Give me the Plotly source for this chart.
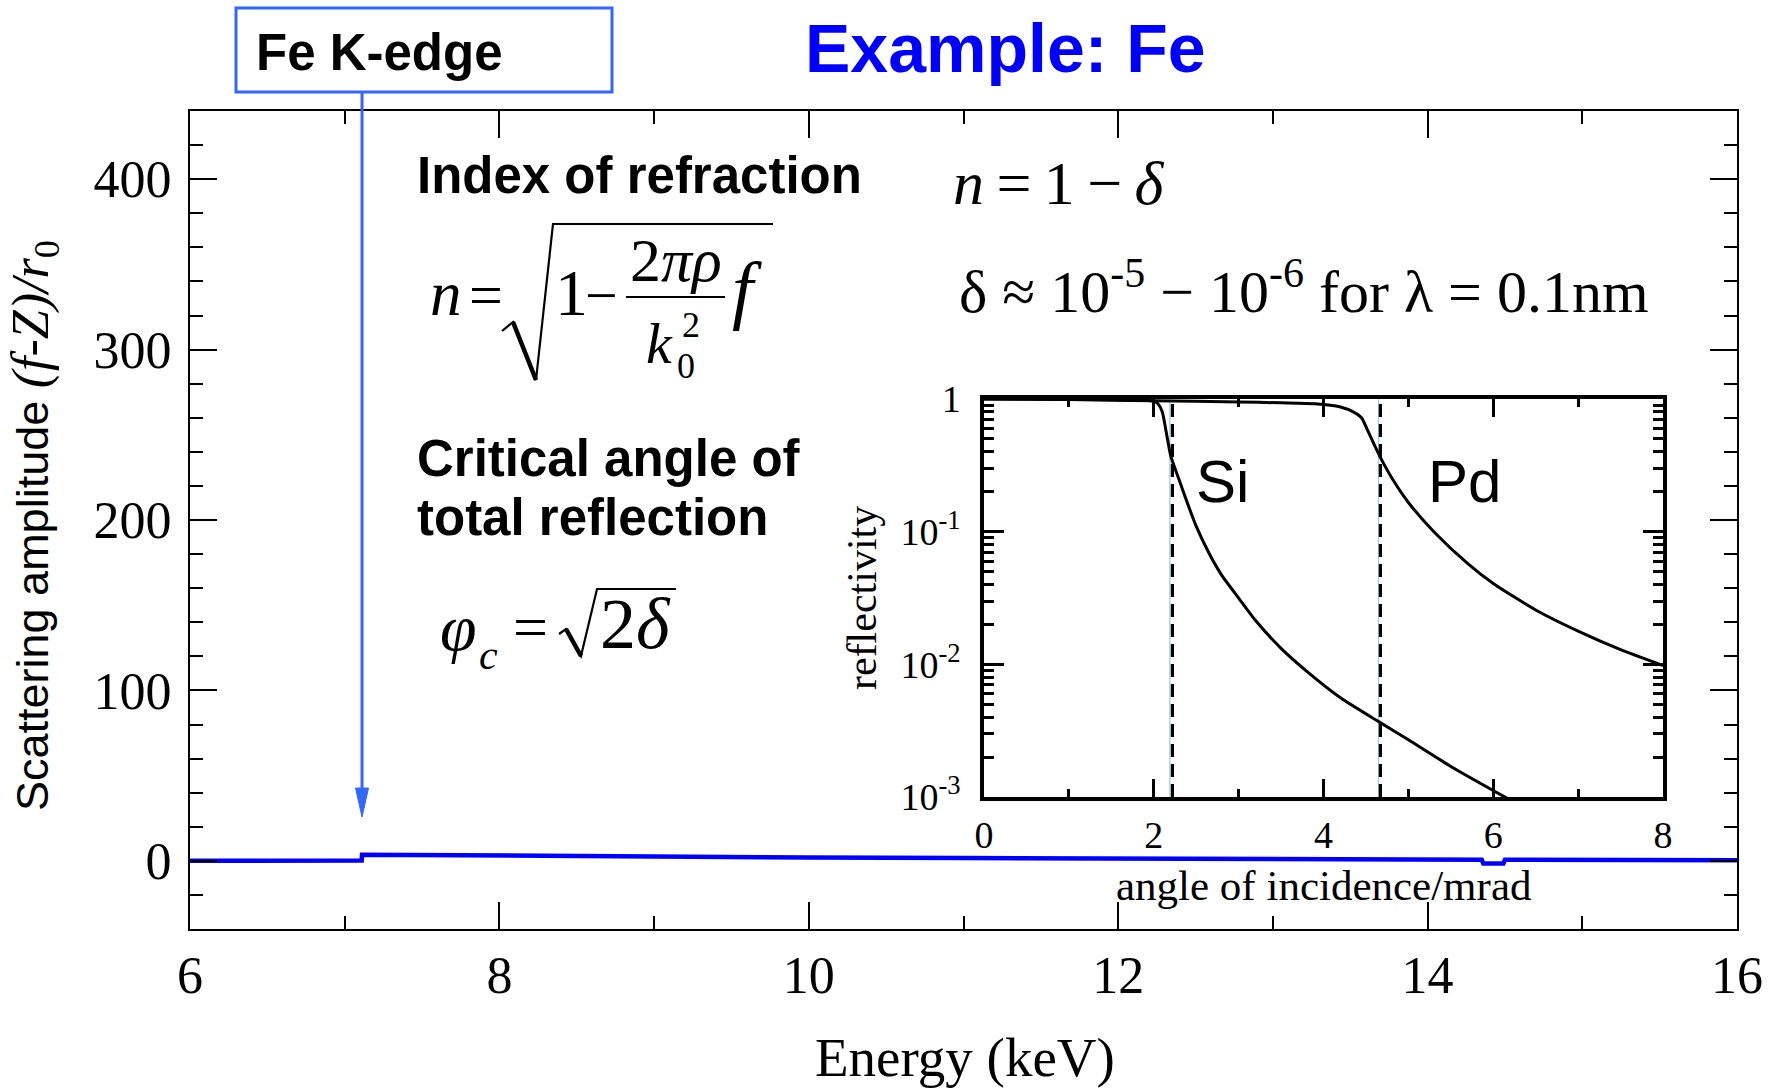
import plotly.graph_objects as go

# ---------------- data ----------------
# Fe scattering amplitude (f - Z)/r0 versus photon energy
energy_kev = [6.0, 7.0, 7.11, 7.112, 7.5, 8.0, 9.0, 10.0, 11.0, 12.0, 13.0, 14.0,
              14.35, 14.36, 14.49, 14.5, 15.0, 16.0]
amplitude = [0.0, 0.1, 0.2, 3.6, 3.3, 3.0, 2.5, 2.0, 1.6, 1.3, 1.0, 0.8,
             0.7, -1.6, -1.6, 0.6, 0.5, 0.3]

# mirror reflectivity versus grazing angle (mrad)
angle_si = [0.0, 0.5, 1.0, 1.5, 1.9, 2.0, 2.05, 2.1, 2.15, 2.2, 2.3, 2.4, 2.5,
            2.65, 2.8, 3.0, 3.2, 3.5, 3.8, 4.2, 4.65, 5.0, 5.5, 6.2]
refl_si = [1.0, 0.998, 0.995, 0.99, 0.98, 0.96, 0.92, 0.8, 0.55, 0.372, 0.245,
           0.162, 0.110, 0.069, 0.047, 0.0316, 0.0214, 0.0132, 0.0089, 0.0056,
           0.0037, 0.0027, 0.0017, 0.00095]
angle_pd = [0.0, 1.0, 2.0, 3.0, 3.5, 3.9, 4.2, 4.35, 4.45, 4.52, 4.6, 4.67, 4.8,
            5.0, 5.3, 5.7, 6.0, 6.5, 7.0, 7.5, 8.0]
refl_pd = [1.0, 0.99, 0.97, 0.95, 0.935, 0.92, 0.87, 0.8, 0.72, 0.58, 0.45,
           0.363, 0.257, 0.166, 0.1, 0.0575, 0.0407, 0.0257, 0.0178, 0.0129, 0.0098]

# critical angles of total reflection (mrad)
crit_names = ["Si", "Pd"]
crit_angle = [2.22, 4.67]
crit_guide = [2.19, 4.65]

K_EDGE = 7.112  # keV

main_xticks = [6, 8, 10, 12, 14, 16]
main_yticks = [0, 100, 200, 300, 400]
inset_xticks = [0, 2, 4, 6, 8]
inset_yticks = [1e-3, 1e-2, 1e-1, 1]
inset_yticktext = ["10<sup>-3</sup>", "10<sup>-2</sup>", "10<sup>-1</sup>", "1"]

# ---------------- layout helpers ----------------
FIG_W, FIG_H = 1777, 1088
PLOT_L, PLOT_R, PLOT_T, PLOT_B = 190, 1737, 111, 929
INSET_L, INSET_R, INSET_T, INSET_B = 984, 1663, 399, 797

SERIF = "Liberation Serif"
SANS = "Liberation Sans"
EDGE_BLUE = "#3366ff"
LINE_BLUE = "#0000ff"


def fx(p):
    return (p - PLOT_L) / (PLOT_R - PLOT_L)


def fy(p):
    return (PLOT_B - p) / (PLOT_B - PLOT_T)


annotations = []
shapes = []


def label(text, left, baseline, size, family=SERIF, color="black", anchor="left", angle=0):
    annotations.append(dict(
        xref="paper", yref="paper", x=fx(left), y=fy(baseline - 0.34 * size),
        xanchor=anchor, yanchor="middle", text=text, showarrow=False,
        textangle=angle, borderpad=0, borderwidth=0,
        font=dict(family=family, size=size, color=color)))


def polyline(points, width, color="black"):
    path = "M " + " L ".join(f"{fx(a):.5f},{fy(b):.5f}" for a, b in points)
    shapes.append(dict(type="path", xref="paper", yref="paper", path=path,
                       line=dict(color=color, width=width)))


fig = go.Figure()

# main curve
fig.add_trace(go.Scatter(x=energy_kev, y=amplitude, mode="lines",
                         line=dict(color=LINE_BLUE, width=4.5),
                         xaxis="x", yaxis="y", showlegend=False, hoverinfo="skip"))

# critical-angle guides in the inset
for g, a in zip(crit_guide, crit_angle):
    fig.add_trace(go.Scatter(x=[g, g], y=[1e-3, 1], mode="lines",
                             line=dict(color="#7ec8ea", width=1),
                             xaxis="x2", yaxis="y2", showlegend=False, hoverinfo="skip"))
    fig.add_trace(go.Scatter(x=[a, a], y=[1e-3, 1], mode="lines",
                             line=dict(color="black", width=3.2, dash="13px,7px"),
                             xaxis="x2", yaxis="y2", showlegend=False, hoverinfo="skip"))

# reflectivity curves
for xs, ys in ((angle_si, refl_si), (angle_pd, refl_pd)):
    fig.add_trace(go.Scatter(x=xs, y=ys, mode="lines",
                             line=dict(color="black", width=3, shape="spline", smoothing=0.6),
                             xaxis="x2", yaxis="y2", showlegend=False, hoverinfo="skip"))

# ---------------- text and decorations ----------------
# Fe K-edge marker
shapes.append(dict(type="rect", xref="paper", yref="paper",
                   x0=fx(236), x1=fx(612), y0=fy(92), y1=fy(8),
                   line=dict(color=EDGE_BLUE, width=3), fillcolor="white"))
label("<b>Fe K-edge</b>", 256, 70, 51, family=SANS)
shapes.append(dict(type="line", xref="x", yref="paper", x0=K_EDGE, x1=K_EDGE,
                   y0=fy(93), y1=fy(792), line=dict(color=EDGE_BLUE, width=3)))
dx = 6.5 / (PLOT_R - PLOT_L) * 10
shapes.append(dict(type="path", xref="x", yref="paper",
                   path=f"M {K_EDGE},{fy(817):.5f} L {K_EDGE - dx:.5f},{fy(788):.5f} "
                        f"L {K_EDGE + dx:.5f},{fy(788):.5f} Z",
                   line=dict(color=EDGE_BLUE, width=1), fillcolor=EDGE_BLUE))

label("<b>Example: Fe</b>", 805, 71, 68, family=SANS, color=LINE_BLUE)

label("<b>Index of refraction</b>", 417, 193, 51, family=SANS)
label("<b>Critical angle of</b>", 417, 476, 51, family=SANS)
label("<b>total reflection</b>", 417, 535, 51, family=SANS)

# n = sqrt(1 - 2*pi*rho/k0^2 f)
label("<i>n</i>", 430, 315, 63)
label("=", 469, 315, 60)
polyline([(502, 331), (513, 322), (536, 380), (553, 224), (773, 224)], 2.2)
polyline([(513, 322), (536, 380)], 4.5)
label("1", 555, 315, 66)
label("\u2212", 585, 315, 58)
label("2<i>\u03c0\u03c1</i>", 676, 281, 62, anchor="center")
shapes.append(dict(type="line", xref="paper", yref="paper",
                   x0=fx(626), x1=fx(725), y0=fy(297), y1=fy(297),
                   line=dict(color="black", width=2)))
label("<i>k</i>", 646, 363, 58)
label("2", 682, 337, 36)
label("0", 677, 378, 36)
label("<i>f</i>", 732, 315, 76)

# phi_c = sqrt(2 delta)
label("<i>\u03c6</i>", 440, 650, 66)
label("<i>c</i>", 479, 669, 42)
label("=", 513, 648, 62)
polyline([(559, 634), (566, 629), (581, 656), (597, 589), (676, 589)], 2.2)
polyline([(566, 629), (581, 656)], 4.5)
label("2<i>\u03b4</i>", 600, 648, 72)

# n = 1 - delta
label("<i>n</i>\u2009=\u20091\u2009\u2212\u2009<i>\u03b4</i>", 953, 204, 62)
label("\u03b4 \u2248 10<sup>-5</sup> \u2212 10<sup>-6</sup> for \u03bb = 0.1nm", 959, 308, 60)

# inset labels
label(crit_names[0], 1196, 502, 60, family=SANS)
label(crit_names[1], 1428, 502, 60, family=SANS)
label("reflectivity", 862, 598 + 0.34 * 42, 42, anchor="center", angle=-90)
label("angle of incidence/mrad", 1323, 900, 43, anchor="center")

# axis titles
label("Energy (keV)", 965, 1076, 55, anchor="center")
label("Scattering amplitude <span style='font-family:Liberation Serif;font-size:52px'>"
      "<i>(f-Z)/r</i><sub>0</sub></span>",
      34, 526 + 0.34 * 45, 45, family=SANS, anchor="center", angle=-90)

# ---------------- axes ----------------
frame = dict(showline=True, linecolor="black", mirror="ticks", showgrid=False,
             zeroline=False, ticks="inside", tickcolor="black")

fig.update_layout(
    width=FIG_W, height=FIG_H, autosize=False,
    margin=dict(l=PLOT_L, r=FIG_W - PLOT_R, t=PLOT_T, b=FIG_H - PLOT_B, pad=0),
    paper_bgcolor="white", plot_bgcolor="white",
    xaxis=dict(**frame, range=[6, 16], domain=[0, 1], anchor="y",
               tickvals=main_xticks, ticklen=27, tickwidth=2, linewidth=2,
               minor=dict(ticks="inside", dtick=1, tick0=6, ticklen=13, tickwidth=2,
                          tickcolor="black", showgrid=False),
               tickfont=dict(family=SERIF, size=52, color="black"),
               ticklabelstandoff=0),
    yaxis=dict(**frame, range=[-40, 440], domain=[0, 1], anchor="x",
               tickvals=main_yticks, ticklen=27, tickwidth=2, linewidth=2,
               minor=dict(ticks="inside", dtick=20, tick0=0, ticklen=13, tickwidth=2,
                          tickcolor="black", showgrid=False),
               tickfont=dict(family=SERIF, size=52, color="black"),
               ticklabelstandoff=6),
    xaxis2=dict(**frame, range=[0, 8], anchor="y2",
                domain=[fx(INSET_L), fx(INSET_R)],
                tickvals=inset_xticks, ticklen=18, tickwidth=2.5, linewidth=3.5,
                minor=dict(ticks="inside", dtick=1, tick0=0, ticklen=8, tickwidth=2.5,
                           tickcolor="black", showgrid=False),
                tickfont=dict(family=SERIF, size=38, color="black"),
                ticklabelstandoff=2),
    yaxis2=dict(**frame, type="log", range=[-3, 0], anchor="x2",
                domain=[fy(INSET_B), fy(INSET_T)],
                tickvals=inset_yticks, ticktext=inset_yticktext,
                ticklen=20, tickwidth=2.5, linewidth=3.5,
                minor=dict(ticks="inside", dtick="D1", ticklen=10, tickwidth=2.5,
                           tickcolor="black", showgrid=False),
                tickfont=dict(family=SERIF, size=38, color="black"),
                ticklabelstandoff=12),
    annotations=annotations,
    shapes=shapes,
)

fig.write_html("out.html")
